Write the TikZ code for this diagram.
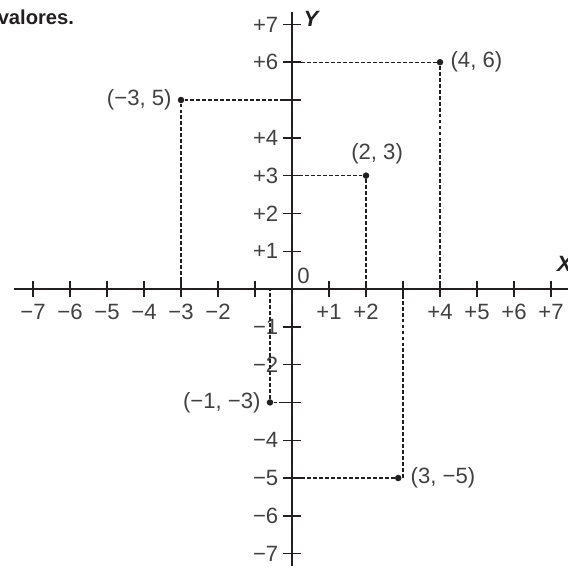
\documentclass[tikz,border=0pt]{standalone}
\usepackage{fontspec}
\setmainfont{Liberation Sans}
\usepackage{xcolor}
\usepackage{tikz}
\usetikzlibrary{positioning, calc}
\definecolor{inkblack}{RGB}{35, 31, 32}
\definecolor{textgray}{RGB}{65, 64, 66}

\begin{document}
\begin{tikzpicture}[
    x=1cm, y=1.0216cm,
    every node/.style={font=\fontsize{17}{20}\selectfont, text=textgray, inner sep=1pt},
    axisline/.style={line width=2pt, color=inkblack},
    tickmark/.style={line width=1.1pt, color=inkblack},
    guide/.style={dash pattern=on 3pt off 1.6pt, line width=0.9pt, color=inkblack},
    ptdot/.style={circle, fill=inkblack, inner sep=0pt, minimum size=5pt},
    axislabel/.style={font=\fontsize{17}{20}\selectfont\bfseries\itshape, text=inkblack}
]
\useasboundingbox (-7.892,-7.328) rectangle (7.459,7.646);

% Heading fragment
\node[anchor=base east, font=\fontsize{15.5}{19}\selectfont\bfseries, text=inkblack] (caption) at (-5.85,7.01) {valores.};

% Axes
\coordinate (xl) at (-7.514,0);
\coordinate (xr) at (7.459,0);
\coordinate (yt) at (0,7.33);
\coordinate (yb) at (0,-7.328);
\draw[axisline] (xl) -- (xr);
\draw[axisline] (yt) -- (yb);
\node[axislabel, anchor=west] (xname) at (7.12,0.675) {X};
\node[axislabel, anchor=west] (yname) at (0.27,7.14) {Y};
\node (origin) at (0.31,0.36) {0};

% Ticks
\foreach \i in {-7,...,-1,1,2,...,7}
    \draw[tickmark] (\i,-0.215) -- (\i,0.215);
\foreach \j in {-7,...,-1,1,2,...,7}
    \draw[tickmark] (-0.24,\j) -- (0.24,\j);

% Tick labels
\foreach \i in {2,...,7}
    \node (xm\i) at (-\i,-0.61) {−\i};
\foreach \i in {1,2,4,5,6,7}
    \node (xp\i) at (\i,-0.61) {+\i};
\foreach \j in {1,2,3,4,6,7}
    \node[anchor=east] (yp\j) at (-0.33,\j) {+\j};
\foreach \j in {1,2,4,5,6,7}
    \node[anchor=east] (ym\j) at (-0.33,-\j) {−\j};

% Points
\node[ptdot] (p46) at (4,6) {};
\node[ptdot] (pm35) at (-3,5) {};
\node[ptdot] (p23) at (2,3) {};
\node[ptdot] (pm1m3) at (-0.595,-3) {};
\node[ptdot] (p3m5) at (2.87,-5) {};
\coordinate (v3m5) at (3,-5);

% Guide lines
\draw[guide] (p46) -- (p46 -| yt);
\draw[guide] (p46) -- (p46 |- xl);
\draw[guide] (pm35) -- (pm35 -| yt);
\draw[guide] (pm35) -- (pm35 |- xl);
\draw[guide] (p23) -- (p23 -| yt);
\draw[guide] (p23) -- (p23 |- xl);
\draw[guide] (pm1m3) -- (pm1m3 -| yt);
\draw[guide] (pm1m3) -- (pm1m3 |- xl);
\draw[guide] (p3m5) -- (p3m5 -| yt);
\draw[guide] (v3m5) -- (v3m5 |- xl);

% Point labels
\node[right=0.15cm of p46] (l46) {(4, 6)};
\node[left=0.12cm of pm35] (lm35) {(−3, 5)};
\node[above=0.18cm of p23, xshift=0.3cm] (l23) {(2, 3)};
\node[left=0.12cm of pm1m3] (lm1m3) {(−1, −3)};
\node[right=0.2cm of p3m5] (l3m5) {(3, −5)};

\end{tikzpicture}
\end{document}
